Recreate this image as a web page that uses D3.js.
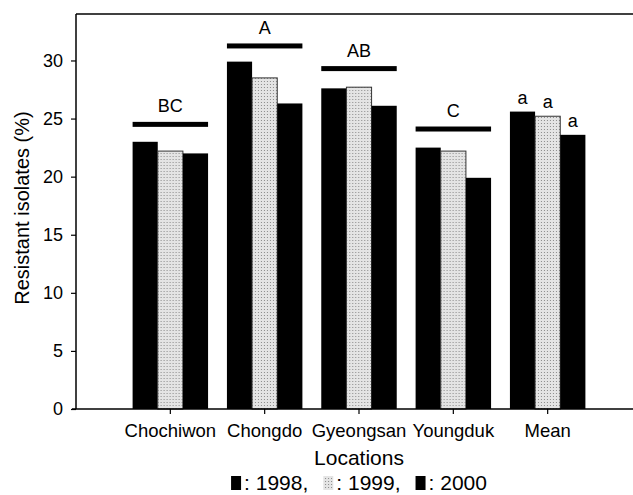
<!DOCTYPE html>
<html>
<head>
<meta charset="utf-8">
<script src="https://cdn.jsdelivr.net/npm/d3@7"></script>
<style>
  body { margin: 0; background: #fff; }
  svg { display: block; font-family: "Liberation Sans", Arial, sans-serif; }
</style>
</head>
<body>
<div id="chart"></div>
<script>
// data
const locations = ["Chochiwon", "Chongdo", "Gyeongsan", "Youngduk", "Mean"];
const years = ["1998", "1999", "2000"];
const values1998 = [23.0, 29.9, 27.6, 22.5, 25.6];
const values1999 = [22.2, 28.5, 27.7, 22.2, 25.2];
const values2000 = [22.0, 26.3, 26.1, 19.9, 23.6];
const groupLetters = ["BC", "A", "AB", "C"];
const groupLineValues = [24.5, 31.25, 29.3, 24.1];
const meanLetters = ["a", "a", "a"];
const yTicks = [0, 5, 10, 15, 20, 25, 30];

const seriesValues = {"1998": values1998, "1999": values1999, "2000": values2000};

const W = 633, H = 495;
const margin = {top: 14, left: 76};
const width = 566, height = 395;

const svg = d3.select("#chart").append("svg")
    .attr("width", W)
    .attr("height", H);

// halftone-ish fill for 1999
const defs = svg.append("defs");
const pat = defs.append("pattern")
    .attr("id", "dots")
    .attr("width", 3).attr("height", 3)
    .attr("patternUnits", "userSpaceOnUse");
pat.append("rect").attr("width", 3).attr("height", 3).attr("fill", "#e4e4e4");
pat.append("rect").attr("x", 1).attr("y", 1).attr("width", 1).attr("height", 1).attr("fill", "#8a8a8a");

const colors = {"1998": "#000", "1999": "url(#dots)", "2000": "#000"};

const g = svg.append("g")
    .attr("transform", `translate(${margin.left},${margin.top})`);

const x0 = d3.scaleBand()
    .domain(locations)
    .range([0, width])
    .paddingInner(0.2)
    .paddingOuter(0.6);

const x1 = d3.scaleBand()
    .domain(years)
    .range([0, x0.bandwidth()]);

const y = d3.scaleLinear()
    .domain([0, 34])
    .range([height, 0]);

// bars
const groups = g.selectAll(".grp")
    .data(locations)
    .join("g")
    .attr("class", "grp")
    .attr("transform", d => `translate(${x0(d)},0)`);

groups.selectAll("rect")
    .data((d, i) => years.map(yr => ({year: yr, value: seriesValues[yr][i]})))
    .join("rect")
    .attr("x", d => x1(d.year))
    .attr("y", d => y(d.value))
    .attr("width", x1.bandwidth())
    .attr("height", d => height - y(d.value))
    .attr("fill", d => colors[d.year])
    .attr("stroke", d => d.year === "1999" ? "#333" : "none")
    .attr("stroke-width", 1);

// significance bars + letters
groupLetters.forEach((lab, i) => {
    const loc = locations[i];
    g.append("rect")
        .attr("x", x0(loc))
        .attr("y", y(groupLineValues[i]) - 2.5)
        .attr("width", x0.bandwidth())
        .attr("height", 5)
        .attr("fill", "#000");
    g.append("text")
        .attr("x", x0(loc) + x0.bandwidth() / 2)
        .attr("y", y(groupLineValues[i]) - 12)
        .attr("text-anchor", "middle")
        .style("font-size", "18px")
        .text(lab);
});

meanLetters.forEach((lab, j) => {
    const yr = years[j];
    const v = seriesValues[yr][locations.length - 1];
    g.append("text")
        .attr("x", x0("Mean") + x1(yr) + x1.bandwidth() / 2)
        .attr("y", y(v) - 8)
        .attr("text-anchor", "middle")
        .style("font-size", "18px")
        .text(lab);
});

// frame: left axis, top border
g.append("line")
    .attr("x1", 0).attr("x2", width)
    .attr("y1", 0).attr("y2", 0)
    .attr("stroke", "#000").attr("stroke-width", 1.5);

const yAxis = g.append("g")
    .call(d3.axisLeft(y).tickValues(yTicks).tickSize(5).tickPadding(8));
yAxis.select(".domain").attr("d", `M0,0V${height}`).attr("stroke-width", 1.5);
yAxis.selectAll("text").style("font-size", "18px").attr("fill", "#000");
yAxis.selectAll(".tick line").attr("stroke-width", 1.2);

const xAxis = g.append("g")
    .attr("transform", `translate(0,${height})`)
    .call(d3.axisBottom(x0).tickSize(5).tickPadding(10));
xAxis.select(".domain").attr("d", `M-4,0H${width}`).attr("stroke-width", 1.5);
xAxis.selectAll("text").style("font-size", "18.5px").attr("fill", "#000");
xAxis.selectAll(".tick line").attr("stroke-width", 1.2);

// axis titles
svg.append("text")
    .attr("transform", `translate(29,208) rotate(-90)`)
    .attr("text-anchor", "middle")
    .style("font-size", "20px")
    .text("Resistant isolates (%)");

const cx = margin.left + width / 2;
svg.append("text")
    .attr("x", cx)
    .attr("y", 465)
    .attr("text-anchor", "middle")
    .style("font-size", "21px")
    .text("Locations");

// legend line: [swatch] : 1998, [swatch] : 1999, [swatch] : 2000
const legend = svg.append("g");
let lx = 0;
years.forEach((yr, i) => {
    legend.append("rect")
        .attr("x", lx).attr("y", 476)
        .attr("width", 10).attr("height", 14)
        .attr("fill", colors[yr]);
    lx += 13;
    const t = legend.append("text")
        .attr("x", lx).attr("y", 490)
        .style("font-size", "21px")
        .text(": " + yr + (i < years.length - 1 ? "," : ""));
    lx += t.node().getComputedTextLength();
    if (i < years.length - 1) lx += 15;
});
legend.attr("transform", `translate(${cx - lx / 2},0)`);
</script>
</body>
</html>
